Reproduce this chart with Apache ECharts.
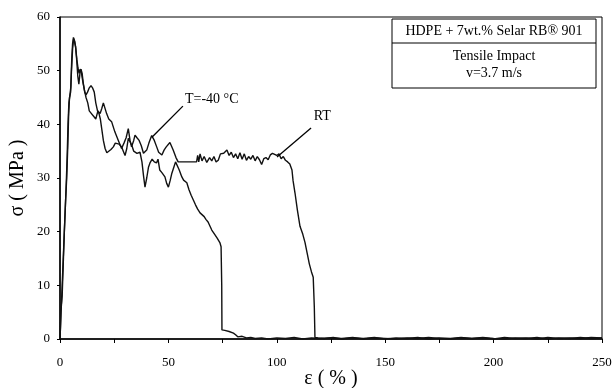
<!DOCTYPE html>
<html><head><meta charset="utf-8">
<script src="https://cdn.jsdelivr.net/npm/echarts@6/dist/echarts.min.js"></script>
<style>html,body{margin:0;padding:0;background:#fff}#c{width:615px;height:388px}</style>
</head><body><div id="c"></div>
<script>
// Strain (%) / stress (MPa) pairs
const curveRT = [
[0,0],[0.3,3],[0.6,6],[1,8],[1.5,14],[2,20],[2.6,26],[3.1,30],[3.6,36],[4,42],[4.4,45],[4.9,46],[5.3,50],[5.8,54],[6.3,56],[6.8,55.5],[7.3,54],[7.8,52],[8.3,50.5],[8.8,49.5],[9.3,50.3],[9.8,49.8],[10.5,48],[11.2,46.5],[12,45],[12.8,44],[13.5,42.5],[14.5,42],[15.5,41.5],[16.5,41],[17.5,42.5],[18.5,42],[19.3,43],[20,44],[20.8,44.2],[21.5,42],[22.5,41],[23.8,40.5],[25.3,38.6],[26.9,37],[28.4,35.5],[29.5,36.5],[30.5,37.5],[31.5,39.2],[32.3,37],[33,35.8],[34,37],[34.6,38],[35.5,37.5],[36.5,37],[37.5,36],[38.5,34.6],[40,35.2],[41,36.5],[42.3,37.9],[43.5,37],[44.6,35.8],[45.5,34.8],[47,34.3],[48,35.2],[49,35.8],[50.7,36.6],[52.2,35.2],[53.5,33.8],[54.5,33],[57,33],[60,33],[63,33],[63.5,34.2],[64,33],[64.6,34.5],[65.5,33.2],[66.5,34],[67.7,32.9],[69,33.8],[70,33.2],[71,34],[72,33],[73,33.3],[74,34.5],[75.5,34.6],[77,35.2],[78,34.2],[79,34.8],[80,33.8],[81,34.5],[82,33.6],[83,34.7],[84,33.5],[85,34.5],[86,33.3],[87,34],[88,33.5],[89,34.2],[90,33.2],[91,34],[92,33.4],[93,32.5],[94,33.6],[95,33.8],[96,33.4],[97,34.3],[98,34.6],[99,34.4],[100,34.2],[101,34.5],[102,33.6],[103,34],[104,33.3],[105,33],[106,32.6],[107,31.5],[107.5,29.5],[108.4,27.2],[109.5,24],[110.7,21],[112,19.5],[113,18],[114,16],[115,14],[116,12.5],[116.8,11.5],[117.3,6],[117.6,0.3],[119,0.2],[122,0.1],[126,0.3],[130,0],[135,0.2],[140,0.1],[145,0.3],[150,0],[155,0.2],[160,0.1],[165,0.3],[170,0],[175,0.2],[180,0.1],[185,0.3],[190,0.1],[195,0.2],[200,0],[205,0.3],[210,0.1],[215,0.2],[220,0],[225,0.3],[230,0.1],[235,0.2],[240,0.1],[245,0.3],[250,0.2]
];
const curveM40 = [
[0,0],[0.2,2],[0.4,5],[0.7,7],[1,10],[1.6,16],[2.2,22],[2.8,28],[3.3,34],[3.7,40],[4.1,44],[4.6,45.5],[5.0,47],[5.4,52],[5.8,55],[6.2,56.2],[6.7,56],[7.2,54.5],[7.7,52],[8.2,49],[8.7,47.5],[9.2,49.5],[9.7,50.3],[10.2,49.5],[10.8,47.5],[11.4,46],[12,45.5],[12.7,46],[13.5,46.8],[14.3,47.2],[15,46.8],[15.8,46],[16.5,44],[17.3,42.5],[18,42],[18.6,41],[19.3,39],[20,37],[20.8,35.5],[21.6,34.7],[22.5,35],[23.5,35.3],[24.6,35.8],[25.5,36.5],[26.2,36.8],[27.3,36.3],[28.4,35.8],[29.2,35],[30,34.2],[30.8,35.5],[31.5,37.4],[32.3,37.6],[33.2,36],[34,35],[35.5,34.6],[36.9,34.8],[37.8,33],[38.5,30.5],[39.2,28.3],[40,30],[40.8,32],[41.5,32.8],[42.5,33.5],[43.5,33],[44.5,32.8],[45.2,33.5],[46,31.5],[47,31],[48.4,30.2],[49.2,29],[50,28.3],[50.8,29.5],[51.6,30.9],[52.5,32],[53.3,33],[54,32.8],[55,31.5],[56.2,30.2],[57,29.6],[58.5,29.1],[59.5,27.8],[60.5,26.8],[61.5,25.9],[62.5,25],[63.5,24.2],[64.6,23.5],[65.5,23.2],[66.5,22.8],[67.3,22.3],[68.3,21.8],[69.2,21],[70,20.3],[71.5,19.4],[72.5,18.8],[73.8,17.9],[74.3,17.2],[74.6,10],[74.7,1.7],[76,1.6],[78,1.4],[80,1.1],[81,0.8],[82,0.4],[84,0.5],[86,0.2],[88,0.3],[90,0.1],[93,0.2],[96,0],[100,0.2],[104,0.1],[108,0.3],[112,0],[116,0.2],[120,0.1],[125,0.2],[130,0.1],[135,0.3],[140,0],[145,0.2],[150,0.1],[155,0],[160,0.2],[165,0.1],[170,0.3],[175,0.1],[180,0],[185,0.2],[190,0.1],[195,0.3],[200,0.1],[205,0],[210,0.2],[215,0.1],[220,0.3],[225,0],[230,0.2],[235,0.1],[240,0.3],[245,0.1],[250,0.2]
];
const xTicks = [0, 50, 100, 150, 200, 250];
const yTicks = [0, 10, 20, 30, 40, 50, 60];
const boxTitle = 'HDPE + 7wt.% Selar RB\u00ae 901';
const boxLine1 = 'Tensile Impact';
const boxLine2 = 'v=3.7 m/s';
const labelM40 = 'T=-40 \u00b0C';
const labelRT = 'RT';
const leaderM40 = [[42.4, 37.6], [56.7, 43.4]];
const leaderRT = [[100.1, 33.9], [115.8, 39.3]];
const textPosM40 = [57.2, 44.6];
const textPosRT = [116.6, 41.4];

const FONT = '"Liberation Serif", "DejaVu Serif", serif';
const chart = echarts.init(document.getElementById('c'), null, {renderer: 'canvas'});
const lineSty = {color: '#111', width: 1.4};
function leader(pts) {
  return {symbol: 'none', silent: true, animation: false,
    lineStyle: {color: '#000', width: 1.3, type: 'solid'}, label: {show: false},
    data: [[{coord: pts[0]}, {coord: pts[1]}]]};
}
function tag(pos, txt) {
  return {symbol: 'circle', symbolSize: 2, silent: true, animation: false,
    itemStyle: {color: 'rgba(0,0,0,0)'},
    label: {show: true, position: 'right', distance: 0, formatter: txt,
      color: '#000', fontFamily: FONT, fontSize: 14},
    data: [{coord: pos, value: 0}]};
}
chart.setOption({
  animation: false,
  backgroundColor: '#fff',
  grid: {left: 60, right: 13, top: 17, bottom: 49, containLabel: false, outerBoundsMode: 'none',
    show: true, borderColor: '#000', borderWidth: 1, backgroundColor: 'transparent'},
  xAxis: {type: 'value', min: 0, max: 250, interval: 25,
    name: '\u03b5 ( % )', nameLocation: 'middle', nameGap: 30, nameMoveOverlap: false,
    nameTextStyle: {fontFamily: FONT, fontSize: 20, color: '#000'},
    axisLine: {lineStyle: {color: '#000', width: 1.5}},
    axisTick: {show: true, length: 4, lineStyle: {color: '#000'}},
    splitLine: {show: false},
    axisLabel: {margin: 17, fontFamily: FONT, fontSize: 13, color: '#000',
      formatter: v => xTicks.indexOf(v) >= 0 ? String(v) : ''}},
  yAxis: {type: 'value', min: 0, max: 60, interval: 10,
    name: '\u03c3 ( MPa )', nameLocation: 'middle', nameGap: 32, nameMoveOverlap: false,
    nameTextStyle: {fontFamily: FONT, fontSize: 20, color: '#000'},
    axisLine: {show: true, lineStyle: {color: '#000', width: 1.5}},
    axisTick: {show: true, length: 3, lineStyle: {color: '#000'}},
    splitLine: {show: false},
    axisLabel: {margin: 10, fontFamily: FONT, fontSize: 13, color: '#000',
      formatter: v => yTicks.indexOf(v) >= 0 ? String(v) : ''}},
  series: [
    {type: 'line', name: 'RT', data: curveRT, showSymbol: false, lineStyle: lineSty, z: 3,
      markLine: leader(leaderRT), markPoint: tag(textPosRT, labelRT)},
    {type: 'line', name: 'T=-40', data: curveM40, showSymbol: false, lineStyle: lineSty, z: 3,
      markLine: leader(leaderM40), markPoint: tag(textPosM40, labelM40)}
  ],
  graphic: [
    {type: 'rect', shape: {x: 392, y: 19, width: 204, height: 69}, style: {fill: '#fff', stroke: '#000', lineWidth: 1}, z: 10},
    {type: 'line', shape: {x1: 392, y1: 43, x2: 596, y2: 43}, style: {stroke: '#000', lineWidth: 1}, z: 10},
    {type: 'text', x: 494, y: 31, style: {text: boxTitle, font: '14px ' + FONT, fill: '#000', align: 'center', verticalAlign: 'middle'}, z: 11},
    {type: 'text', x: 494, y: 56, style: {text: boxLine1, font: '14px ' + FONT, fill: '#000', align: 'center', verticalAlign: 'middle'}, z: 11},
    {type: 'text', x: 494, y: 73, style: {text: boxLine2, font: '14px ' + FONT, fill: '#000', align: 'center', verticalAlign: 'middle'}, z: 11}
  ]
});
</script></body></html>
